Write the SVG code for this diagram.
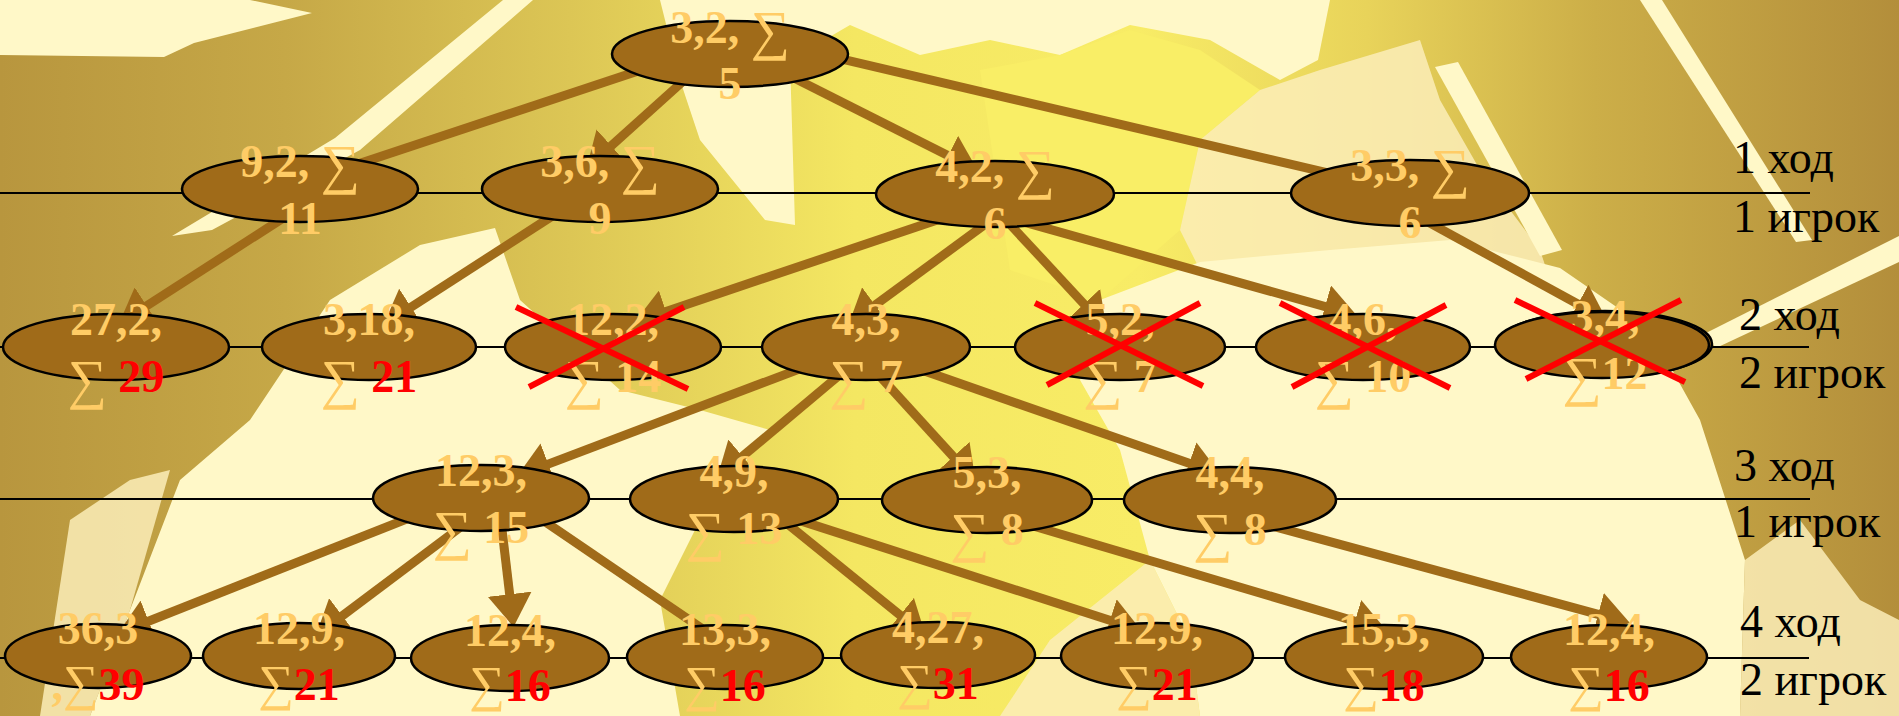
<svg xmlns="http://www.w3.org/2000/svg" width="1899" height="716" viewBox="0 0 1899 716">
<defs>
<linearGradient id="bg" x1="0" y1="0" x2="1" y2="0">
<stop offset="0" stop-color="#B8963E"/>
<stop offset="0.15" stop-color="#C6A847"/>
<stop offset="0.3" stop-color="#DCC655"/>
<stop offset="0.45" stop-color="#F4E762"/>
<stop offset="0.6" stop-color="#F8EC66"/>
<stop offset="0.72" stop-color="#E8D35A"/>
<stop offset="0.84" stop-color="#CCAE48"/>
<stop offset="1" stop-color="#B38E3B"/>
</linearGradient>
<marker id="ah" markerUnits="userSpaceOnUse" markerWidth="33" markerHeight="44" viewBox="0 0 33 44" refX="3" refY="22" orient="auto">
<path d="M0,0 L33,22 L0,44 Z" fill="#A06B19"/>
</marker>
<style>
.cream{fill:#FFF8C8}
.pale{fill:#FCEDB8;opacity:0.85}
.yel{fill:#F9EE66}
.node ellipse{fill:#A06B19;stroke:#000;stroke-width:2.5}
.t{font-family:"Liberation Serif","Times New Roman",serif;font-size:46px;font-weight:bold;fill:#FFCC66;text-anchor:middle}
.s{font-weight:normal;font-size:55px}
.s4{font-weight:normal;font-size:50px}
.r{fill:#FF0000}
.lbl{font-family:"Liberation Serif","Times New Roman",serif;font-size:46px;fill:#000}
.conn line{stroke:#A06B19;stroke-width:9}
.arr{marker-end:url(#ah)}
.lvl line{stroke:#000;stroke-width:2}
.x{stroke:#FF0000;stroke-width:6}
</style>
</defs>
<g id="background">
<rect width="1899" height="716" fill="url(#bg)"/>
<polygon class="cream" points="0,0 250,0 312,13 194,43 164,57 0,55"/>
<polygon class="cream" points="503,0 533,0 360,150 212,230 172,236 335,138"/>
<polygon class="cream" points="660,0 1330,0 1318,60 1280,80 1210,40 1130,25 1060,55 990,40 920,55 850,25 790,60 795,225 765,220 700,140 680,80"/>
<polygon class="yel" points="980,70 1060,55 1130,30 1200,50 1260,90 1200,140 1180,230 1100,300 1010,270"/>
<polygon class="pale" points="1180,230 1200,140 1260,90 1320,70 1420,40 1440,100 1480,170 1540,250 1560,310 1450,330 1300,300 1200,270"/>
<polygon class="cream" points="1435,67 1458,62 1562,250 1540,256"/>
<polygon class="cream" points="1640,0 1662,0 1812,240 1796,242"/>
<polygon class="cream" points="1899,236 1899,262 1716,348 1704,334"/>
<polygon class="cream" points="330,300 420,245 495,228 520,300 620,390 700,410 770,430 700,520 660,600 680,716 90,716 130,610 180,480 250,420"/>
<polygon class="cream" points="1100,300 1200,262 1330,250 1450,240 1560,268 1650,330 1700,420 1745,560 1740,716 1200,716 1190,640 1150,560 1120,450 1080,380"/>
<polygon class="pale" points="1000,716 1050,640 1150,560 1190,640 1200,716"/>
<polygon class="pale" points="1745,560 1800,520 1860,600 1899,620 1899,716 1740,716"/>
<polygon class="pale" points="70,520 130,480 170,470 130,610 90,716 40,716"/>
</g>
<g id="levels" class="lvl">
<line x1="0" y1="193" x2="1810" y2="193"/>
<line x1="0" y1="347" x2="1809" y2="347"/>
<line x1="0" y1="499" x2="1810" y2="499"/>
<line x1="0" y1="658" x2="1809" y2="658"/>
</g>
<g id="connectors" class="conn">
<line x1="647.2" y1="68" x2="356.4" y2="164.5"/>
<line class="arr" x1="691.1" y1="74" x2="609" y2="147.8"/>
<line class="arr" x1="786.6" y1="74.3" x2="950.9" y2="156.9"/>
<line x1="831.4" y1="56.6" x2="1329.8" y2="173.3"/>
<line class="arr" x1="289.6" y1="213.9" x2="144.1" y2="307.5"/>
<line class="arr" x1="560.6" y1="210.6" x2="408.6" y2="308.8"/>
<line class="arr" x1="944.7" y1="217.4" x2="663.1" y2="312.4"/>
<line class="arr" x1="993.9" y1="217.9" x2="872.7" y2="306.9"/>
<line class="arr" x1="1002.3" y1="216" x2="1086" y2="306.2"/>
<line class="arr" x1="1020.6" y1="221.1" x2="1327.9" y2="307.4"/>
<line class="arr" x1="1420.8" y1="218.1" x2="1580.5" y2="305.5"/>
<line class="arr" x1="808.5" y1="365.6" x2="545.5" y2="465.1"/>
<line class="arr" x1="844.5" y1="370.9" x2="740.2" y2="458.3"/>
<line class="arr" x1="873.2" y1="368.9" x2="955.3" y2="458.9"/>
<line class="arr" x1="915.8" y1="368.1" x2="1192" y2="464.2"/>
<line class="arr" x1="430" y1="509.8" x2="145.9" y2="622.2"/>
<line class="arr" x1="470" y1="520" x2="339.9" y2="617.6"/>
<line class="arr" x1="500.3" y1="515" x2="510" y2="597.2"/>
<line x1="540" y1="518.2" x2="705.2" y2="630.7"/>
<line class="arr" x1="770.6" y1="510.3" x2="902.4" y2="616.9"/>
<line class="arr" x1="800" y1="520.6" x2="1112.8" y2="621.2"/>
<line class="arr" x1="1018" y1="521.5" x2="1357.8" y2="622"/>
<line class="arr" x1="1272.5" y1="526.1" x2="1601" y2="615.1"/>
</g>
<g id="n0" class="node"><ellipse cx="730" cy="54" rx="118" ry="33"/><text class="t" x="730" y="43">3,2, <tspan class="s" dy="6">∑</tspan></text><text class="t" x="730" y="99">5</text></g>
<g id="n1a" class="node"><ellipse cx="300" cy="189" rx="118" ry="33"/><text class="t" x="300" y="177">9,2, <tspan class="s" dy="6">∑</tspan></text><text class="t" x="300" y="234">11</text></g>
<g id="n1b" class="node"><ellipse cx="600" cy="189" rx="118" ry="33"/><text class="t" x="600" y="177">3,6, <tspan class="s" dy="6">∑</tspan></text><text class="t" x="600" y="234">9</text></g>
<g id="n1c" class="node"><ellipse cx="995" cy="194" rx="119" ry="33"/><text class="t" x="995" y="182">4,2, <tspan class="s" dy="6">∑</tspan></text><text class="t" x="995" y="239">6</text></g>
<g id="n1d" class="node"><ellipse cx="1410" cy="193" rx="119" ry="33"/><text class="t" x="1410" y="181">3,3, <tspan class="s" dy="6">∑</tspan></text><text class="t" x="1410" y="238">6</text></g>
<g id="n2a" class="node"><ellipse cx="116" cy="347" rx="113" ry="33"/><text class="t" x="116" y="335">27,2,</text><text class="t" x="116" y="392"><tspan class="s" dy="6">∑</tspan><tspan class="r" dy="-6"> 29</tspan></text></g>
<g id="n2b" class="node"><ellipse cx="369" cy="347" rx="107" ry="33"/><text class="t" x="369" y="335">3,18,</text><text class="t" x="369" y="392"><tspan class="s" dy="6">∑</tspan><tspan class="r" dy="-6"> 21</tspan></text></g>
<g id="n2c" class="node"><ellipse cx="613" cy="347" rx="108" ry="33"/><text class="t" x="613" y="335">12,2,</text><text class="t" x="613" y="392"><tspan class="s" dy="6">∑</tspan><tspan dy="-6"> 14</tspan></text><line class="x" x1="516" y1="307" x2="688" y2="389"/><line class="x" x1="529" y1="387" x2="684" y2="307"/></g>
<g id="n2d" class="node"><ellipse cx="866" cy="347" rx="104" ry="33"/><text class="t" x="866" y="335">4,3,</text><text class="t" x="866" y="392"><tspan class="s" dy="6">∑</tspan><tspan dy="-6"> 7</tspan></text></g>
<g id="n2e" class="node"><ellipse cx="1120" cy="347" rx="105" ry="33"/><text class="t" x="1120" y="335">5,2,</text><text class="t" x="1120" y="392"><tspan class="s" dy="6">∑</tspan><tspan dy="-6"> 7</tspan></text><line class="x" x1="1035" y1="303" x2="1203" y2="386"/><line class="x" x1="1047" y1="385" x2="1200" y2="303"/></g>
<g id="n2f" class="node"><ellipse cx="1363" cy="347" rx="107" ry="33"/><text class="t" x="1363" y="335">4,6,</text><text class="t" x="1363" y="392"><tspan class="s" dy="6">∑</tspan><tspan dy="-6"> 10</tspan></text><line class="x" x1="1280" y1="303" x2="1450" y2="388"/><line class="x" x1="1292" y1="387" x2="1446" y2="305"/></g>
<g id="n2g" class="node"><ellipse cx="1605" cy="344" rx="107" ry="33"/><ellipse cx="1602" cy="345" rx="107" ry="33" fill="none"/><text class="t" x="1605" y="332">3,4,</text><text class="t" x="1605" y="389"><tspan class="s" dy="6">∑</tspan><tspan dy="-6">12</tspan></text><line class="x" x1="1515" y1="300" x2="1685" y2="382"/><line class="x" x1="1526" y1="379" x2="1681" y2="300"/></g>
<g id="n3a" class="node"><ellipse cx="481" cy="498" rx="108" ry="33"/><text class="t" x="481" y="486">12,3,</text><text class="t" x="481" y="543"><tspan class="s" dy="6">∑</tspan><tspan dy="-6"> 15</tspan></text></g>
<g id="n3b" class="node"><ellipse cx="734" cy="499" rx="104" ry="33"/><text class="t" x="734" y="487">4,9,</text><text class="t" x="734" y="544"><tspan class="s" dy="6">∑</tspan><tspan dy="-6"> 13</tspan></text></g>
<g id="n3c" class="node"><ellipse cx="987" cy="500" rx="105" ry="33"/><text class="t" x="987" y="488">5,3,</text><text class="t" x="987" y="545"><tspan class="s" dy="6">∑</tspan><tspan dy="-6"> 8</tspan></text></g>
<g id="n3d" class="node"><ellipse cx="1230" cy="500" rx="106" ry="33"/><text class="t" x="1230" y="488">4,4,</text><text class="t" x="1230" y="545"><tspan class="s" dy="6">∑</tspan><tspan dy="-6"> 8</tspan></text></g>
<g id="n4a" class="node"><ellipse cx="98" cy="656" rx="93" ry="32"/><text class="t" x="98" y="644">36,3</text><text class="t" x="98" y="700">,<tspan class="s4">∑</tspan><tspan class="r">39</tspan></text></g>
<g id="n4b" class="node"><ellipse cx="299" cy="656" rx="96" ry="33"/><text class="t" x="299" y="644">12,9,</text><text class="t" x="299" y="700"><tspan class="s4">∑</tspan><tspan class="r">21</tspan></text></g>
<g id="n4c" class="node"><ellipse cx="510" cy="658" rx="99" ry="33"/><text class="t" x="510" y="646">12,4,</text><text class="t" x="510" y="701"><tspan class="s4">∑</tspan><tspan class="r">16</tspan></text></g>
<g id="n4d" class="node"><ellipse cx="725" cy="657" rx="98" ry="32"/><text class="t" x="725" y="645">13,3,</text><text class="t" x="725" y="701"><tspan class="s4">∑</tspan><tspan class="r">16</tspan></text></g>
<g id="n4e" class="node"><ellipse cx="938" cy="655" rx="97" ry="33"/><text class="t" x="938" y="643">4,27,</text><text class="t" x="938" y="699"><tspan class="s4">∑</tspan><tspan class="r">31</tspan></text></g>
<g id="n4f" class="node"><ellipse cx="1157" cy="656" rx="96" ry="33"/><text class="t" x="1157" y="644">12,9,</text><text class="t" x="1157" y="700"><tspan class="s4">∑</tspan><tspan class="r">21</tspan></text></g>
<g id="n4g" class="node"><ellipse cx="1384" cy="657" rx="99" ry="32"/><text class="t" x="1384" y="645">15,3,</text><text class="t" x="1384" y="701"><tspan class="s4">∑</tspan><tspan class="r">18</tspan></text></g>
<g id="n4h" class="node"><ellipse cx="1609" cy="657" rx="98" ry="32"/><text class="t" x="1609" y="645">12,4,</text><text class="t" x="1609" y="701"><tspan class="s4">∑</tspan><tspan class="r">16</tspan></text></g>
<g id="labels">
<text class="lbl" x="1733" y="173">1 ход</text>
<text class="lbl" x="1733" y="232">1 игрок</text>
<text class="lbl" x="1739" y="330">2 ход</text>
<text class="lbl" x="1739" y="388">2 игрок</text>
<text class="lbl" x="1734" y="481">3 ход</text>
<text class="lbl" x="1734" y="537">1 игрок</text>
<text class="lbl" x="1740" y="637">4 ход</text>
<text class="lbl" x="1740" y="695">2 игрок</text>
</g>
</svg>
